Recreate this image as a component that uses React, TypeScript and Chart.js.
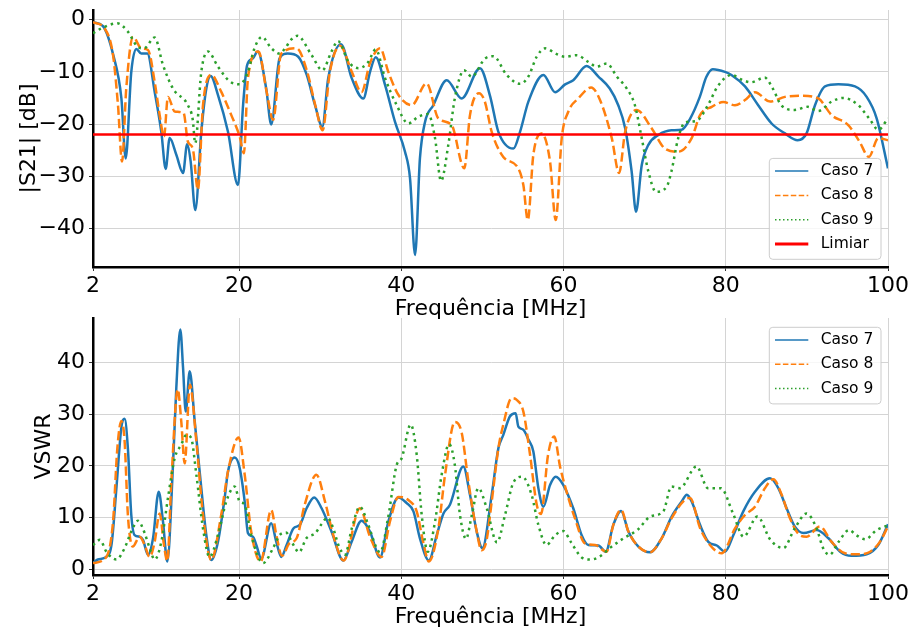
import React, { useEffect, useRef } from 'react';
import { Chart, registerables } from 'chart.js';

Chart.register(...registerables);

const FONT = "'DejaVu Sans', sans-serif";

type Pt = [number, number];

// ---------- Data: |S21| [dB] vs frequency [MHz] ----------
const s21Caso7: Pt[] = [
  [2, -0.5], [3.2, -1.2], [4.5, -6.8], [5.5, -15.1], [6.03, -26.6], [6.72, -10], [7.34, -5.6], [7.95, -6.5],
  [8.7, -6.5], [9.6, -13.8], [10.42, -21.5], [10.96, -28.6], [11.45, -22.7], [12.27, -25.9], [13.1, -29.4],
  [13.6, -23.9], [14.04, -27.2], [14.61, -36.5], [15.35, -21.5], [15.97, -13.2], [16.5, -10.8], [17.4, -14.4],
  [18.64, -21.5], [19.87, -31.7], [20.5, -16.4], [21.0, -8.7], [21.72, -7.4], [22.3, -6.1], [23.35, -13.2],
  [23.97, -20.1], [25.0, -7.4], [26.0, -6.5], [27.3, -7.1], [28.35, -10.6], [29.37, -16.4], [30.27, -20.5],
  [31.0, -11.2], [32.57, -4.7], [33.89, -11.2], [35.32, -15.1], [36.15, -10], [36.85, -7.2], [38.0, -12.5],
  [39.23, -19.6], [40.46, -25.3], [41.08, -30.4], [41.7, -45.1], [42.3, -26.6], [42.93, -19.6], [43.95, -16.4],
  [45.6, -11.6], [47.45, -15.1], [49.7, -9.3], [50.94, -14.6], [51.97, -21.5], [53.82, -24.7], [54.64, -21.5],
  [55.67, -15.7], [57.52, -10.6], [58.96, -13.9], [60.2, -12.4], [61.2, -11.6], [62.85, -8.9], [64.3, -10.9],
  [65.7, -13.2], [66.75, -16.4], [67.6, -20.8], [68.4, -29.1], [68.94, -36.8], [69.64, -27.9], [70.46, -24.0],
  [71.7, -22.1], [73.3, -21.2], [74.57, -21.1], [75.6, -19.0], [76.8, -14.8], [77.6, -11.0], [78.4, -9.5],
  [79.9, -10.0], [80.7, -10.6], [82.37, -12.8], [84.0, -16.4], [85.65, -19.9], [87.3, -21.8], [88.86, -23.1],
  [89.96, -21.8], [91.0, -16.4], [92.24, -12.8], [93.88, -12.4], [95.93, -12.8], [97.37, -14.8], [98.6, -18.9],
  [100, -28.5],
];

const s21Caso8: Pt[] = [
  [2, -0.5], [3.44, -1.7], [4.47, -6.8], [5.08, -16.4], [5.58, -27.2], [6.1, -13.2], [6.93, -3.3], [7.95, -5.5],
  [8.78, -5.8], [9.6, -11.9], [10.22, -18.3], [10.75, -22.4], [11.24, -14.8], [12.07, -17.6], [13.17, -17.9],
  [13.7, -23.4], [14.3, -24.7], [14.93, -32.6], [15.56, -16.4], [16.58, -10.6], [17.8, -13.8], [19.05, -18.3],
  [20.08, -22.4], [20.6, -25.6], [21.1, -11.2], [22.4, -6.1], [23.4, -13.8], [24.2, -19.2], [25.2, -6.5],
  [27.1, -5.5], [28.35, -9.7], [29.4, -16.4], [30.3, -21.2], [31.2, -10], [32.45, -5.0], [33.9, -10],
  [35.1, -13.9], [36.15, -8.3], [37.4, -5.5], [38.4, -10], [39.64, -14.4], [41.28, -16.4], [43.13, -12.2],
  [44.56, -18.9], [46.2, -20.2], [47.77, -28.5], [48.47, -18.3], [49.58, -14.1], [50.3, -15.7], [51.15, -21.5],
  [52.58, -26.3], [54.43, -28.5], [55.05, -31.7], [55.6, -38.4], [56.28, -25.9], [57.3, -21.8], [58.34, -27.2],
  [59.04, -38.4], [59.78, -22.7], [60.6, -17.6], [61.83, -15.1], [63.4, -13.0], [64.5, -15.4], [65.95, -22.7],
  [66.85, -29.4], [67.6, -21.5], [69.0, -17.3], [70.86, -20.8], [72.5, -24.7], [74.14, -25.3], [75.8, -22.7],
  [76.83, -18.3], [78.27, -16.7], [79.7, -15.8], [81.14, -16.4], [82.37, -15.4], [83.6, -13.9], [85.46, -15.7],
  [87.3, -14.8], [89.36, -14.6], [91.4, -15.1], [93.05, -18.3], [95.1, -20.2], [96.5, -23.4], [97.64, -26.3],
  [98.8, -22.7], [100, -23.1],
];

const s21Caso9: Pt[] = [
  [2, -2.6], [3.0, -1.7], [5.0, -0.7], [6.3, -2.3], [7.5, -5.2], [8.3, -5.5], [9.6, -3.4], [10.63, -8.7],
  [11.86, -13.2], [13.7, -16.4], [14.3, -19.2], [14.6, -23.7], [15.35, -10], [16.17, -6.1], [17.4, -9],
  [18.84, -11.8], [20.08, -12.4], [21.1, -10], [21.9, -5.5], [22.83, -3.3], [24.0, -5.5], [25.0, -6.5],
  [25.67, -5.5], [26.45, -3.8], [27.2, -3.1], [28.95, -6.8], [30.27, -9.7], [31.4, -6.1], [32.2, -4.1],
  [33.5, -8.1], [34.73, -9.3], [35.9, -8.2], [36.85, -5.7], [38.0, -11.2], [39.44, -16.4], [40.87, -19.9],
  [42.1, -18.6], [43.33, -18.1], [44.16, -22.7], [44.9, -30.9], [45.8, -24.0], [46.6, -15.1], [47.74, -9.7],
  [48.68, -10.9], [50.3, -7.5], [51.35, -7.0], [53.0, -10.6], [54.64, -12.3], [55.67, -10.9], [56.7, -7.1],
  [57.72, -5.5], [59.16, -6.6], [60.2, -7.1], [61.63, -6.8], [63.06, -8.1], [64.1, -9.0], [65.33, -8.4],
  [66.56, -10.9], [67.8, -13.2], [68.8, -16.4], [69.64, -22.7], [70.46, -29.1], [71.4, -33.0], [72.72, -32.0],
  [73.3, -29.1], [74.14, -22.7], [74.98, -19.7], [76.4, -19.4], [77.8, -16.4], [79.0, -12.8], [80.7, -10.6],
  [82.1, -11.6], [83.1, -12.0], [84.8, -11.1], [85.8, -13.2], [86.85, -16.4], [88.5, -17.3], [90.1, -16.7],
  [91.4, -17.5], [93.05, -15.7], [94.5, -15.0], [96.35, -16.4], [97.8, -19.2], [98.8, -21.1], [100, -18.9],
];

const limiarDb = -22;

// ---------- Data: VSWR vs frequency [MHz] ----------
const vswrCaso7: Pt[] = [
  [2, 1.2], [2.6, 1.9], [3.64, 2.4], [4.3, 5.0], [4.9, 16.0], [5.5, 27.5], [5.9, 29.1], [6.3, 23.4], [6.72, 10.5],
  [7.13, 6.6], [7.75, 6.3], [8.16, 5.7], [8.78, 2.8], [9.4, 6.0], [10.1, 15.0], [10.63, 9.2], [11.16, 1.5],
  [11.86, 20.2], [12.27, 35.1], [12.76, 46.4], [13.1, 39.0], [13.43, 30.5], [13.92, 38.3], [14.54, 28.6],
  [15.35, 15.7], [15.97, 6.6], [16.58, 1.8], [17.4, 5.3], [18.23, 13.8], [18.64, 18.9], [19.46, 21.6],
  [20.08, 19.6], [20.7, 13.1], [21.1, 7.0], [21.72, 6.3], [22.13, 4.7], [22.75, 2.1], [23.97, 8.9], [24.6, 5.3],
  [25.2, 2.4], [25.87, 4.7], [26.7, 7.9], [27.5, 8.6], [28.33, 11.8], [29.27, 13.9], [30.18, 11.8], [31.4, 7.3],
  [32.86, 1.7], [33.9, 5.4], [35.1, 9.4], [36.14, 7.3], [37.38, 2.3], [38.4, 9.2], [39.64, 13.9], [40.67, 12.8],
  [41.5, 11.2], [42.3, 6.0], [43.4, 1.7], [44.37, 6.6], [45.2, 10.8], [46.0, 12.5], [47.65, 19.9], [48.47, 14.4],
  [49.3, 7.3], [50.0, 4.1], [51.15, 14.4], [51.97, 23.4], [52.58, 26.0], [53.4, 29.6], [54.1, 30.2], [54.43, 27.6],
  [55.05, 27.0], [55.67, 25.1], [56.28, 22.8], [56.9, 15.7], [57.52, 12.1], [58.34, 16.3], [59.04, 17.9],
  [59.98, 16.3], [61.2, 11.8], [62.24, 6.6], [63.06, 4.7], [64.3, 4.6], [65.2, 3.4], [66.14, 8.6], [67.1, 11.3],
  [68.0, 7.3], [69.23, 4.4], [70.67, 3.3], [72.1, 6.0], [73.33, 10.2], [74.57, 13.1], [75.2, 14.4], [75.8, 13.1],
  [76.83, 8.6], [77.85, 5.3], [78.9, 4.6], [79.9, 3.4], [80.93, 6.6], [82.16, 11.2], [83.6, 15.0], [85.46, 17.6],
  [86.48, 15.7], [87.5, 11.8], [88.5, 8.3], [89.6, 7.0], [91.2, 7.6], [92.66, 6.0], [94.1, 3.4], [95.5, 2.6],
  [97.37, 2.9], [98.8, 4.7], [100, 8.7],
];

const vswrCaso8: Pt[] = [
  [2, 1.2], [3.64, 2.4], [4.47, 9.2], [5.0, 23.4], [5.5, 28.7], [5.9, 24.7], [6.3, 10.5], [6.9, 4.4], [7.75, 6.3],
  [8.37, 4.7], [8.98, 2.4], [9.6, 5.3], [10.22, 10.8], [10.75, 4.7], [11.16, 1.6], [11.66, 17.0], [12.45, 34.8],
  [12.88, 28.6], [13.3, 20.5], [13.95, 35.7], [14.74, 24.7], [15.56, 10.5], [16.58, 1.8], [17.8, 10.5],
  [18.64, 18.9], [19.95, 25.5], [20.7, 18.3], [21.5, 7.3], [22.67, 1.5], [23.97, 11.5], [24.6, 6.6], [25.3, 2.6],
  [26.2, 5.0], [27.1, 6.0], [28.1, 12.5], [29.54, 18.3], [30.6, 13.1], [31.62, 6.6], [32.9, 1.7], [34.9, 11.8],
  [36.14, 6.3], [37.58, 2.4], [38.6, 9.2], [39.64, 14.0], [40.87, 13.4], [41.9, 11.2], [42.7, 5.3], [43.4, 1.5],
  [44.57, 7.9], [45.4, 18.3], [46.6, 28.5], [47.45, 26.4], [48.27, 17.0], [49.3, 7.3], [49.9, 3.7], [50.5, 5.5],
  [51.15, 13.1], [51.97, 23.4], [52.58, 28.0], [53.6, 33.1], [54.2, 32.8], [55.05, 30.5], [55.87, 22.2],
  [56.7, 12.5], [57.23, 10.7], [58.1, 22.2], [58.86, 25.7], [59.57, 19.9], [60.38, 15.0], [61.4, 9.9],
  [62.65, 5.0], [63.9, 4.7], [65.3, 3.4], [66.14, 8.6], [67.1, 11.5], [68.0, 7.3], [69.23, 4.4], [70.67, 3.3],
  [72.1, 6.0], [73.33, 9.9], [75.0, 13.5], [75.6, 13.8], [76.83, 8.0], [78.05, 4.7], [79.5, 3.1], [81.14, 7.9],
  [82.37, 10.5], [83.6, 12.1], [84.83, 15.7], [85.86, 17.4], [86.9, 14.4], [87.9, 9.9], [89.14, 6.6],
  [89.96, 6.3], [91.6, 8.3], [93.05, 5.3], [94.7, 3.1], [96.3, 2.9], [97.8, 3.4], [99.0, 5.3], [100, 8.3],
];

const vswrCaso9: Pt[] = [
  [2, 4.7], [2.86, 5.7], [3.64, 3.4], [4.87, 1.9], [5.9, 4.1], [6.72, 7.3], [7.55, 9.4], [8.37, 7.0], [8.98, 4.1],
  [9.6, 1.9], [10.42, 5.3], [11.24, 13.8], [12.07, 21.5], [12.88, 24.1], [13.5, 26.0], [14.1, 25.4], [14.74, 18.3],
  [15.56, 7.9], [16.37, 2.4], [17.4, 6.6], [18.43, 13.1], [19.46, 16.0], [20.08, 13.1], [20.7, 12.5], [21.5, 6.6],
  [22.96, 1.2], [24.2, 4.1], [25.0, 6.6], [25.8, 7.1], [26.6, 5.0], [27.4, 3.3], [28.3, 6.0], [29.4, 7.0],
  [30.2, 8.8], [30.9, 10.0], [31.6, 8.0], [32.3, 4.5], [33.06, 2.8], [33.9, 7.9], [34.9, 12.1], [35.93, 8.6],
  [36.96, 4.1], [37.4, 3.3], [38.4, 10.2], [39.44, 20.2], [40.05, 21.5], [41.16, 28.0], [41.9, 22.2],
  [42.52, 10.5], [43.26, 3.4], [44.16, 9.2], [44.98, 18.3], [45.9, 24.2], [46.6, 20.2], [47.24, 10.5],
  [47.98, 5.9], [48.7, 10.5], [49.5, 15.7], [50.5, 12.0], [51.8, 5.2], [52.79, 10.5], [53.8, 16.7], [54.9, 17.9],
  [56.07, 14.4], [56.9, 8.6], [57.9, 4.7], [58.96, 6.6], [59.98, 7.4], [60.9, 5.3], [62.24, 2.3], [63.3, 1.9],
  [64.4, 2.4], [65.7, 4.1], [67.4, 6.0], [69.1, 7.6], [70.7, 10.2], [72.3, 11.2], [73.3, 16.0], [74.35, 15.7],
  [76.4, 19.9], [77.8, 15.7], [79.4, 15.7], [80.9, 10.8], [82.2, 6.3], [83.9, 10.2], [85.5, 5.7], [87.1, 4.1],
  [88.5, 7.9], [89.96, 10.8], [91.2, 7.9], [92.0, 4.1], [92.8, 2.8], [93.9, 5.3], [95.2, 7.6], [96.1, 6.6],
  [97.2, 5.8], [98.6, 7.6], [100, 8.5],
];

// ---------- Axes ----------
const freqTicks = [2, 20, 40, 60, 80, 100];
const s21Ticks = [-40, -30, -20, -10, 0];
const vswrTicks = [0, 10, 20, 30, 40];
const freqRange = [2, 100];
const s21Range = [-47.4, 1.85];
const vswrRange = [-1.1, 48.6];

const seriesLabels = ['Caso 7', 'Caso 8', 'Caso 9'];
const limiarLabel = 'Limiar';

const C7 = '#1f77b4';
const C8 = '#ff7f0e';
const C9 = '#2ca02c';
const CLIM = '#ff0000';

const toXY = (pts: Pt[]) => pts.map(([x, y]) => ({ x, y }));
const fmtNum = (v: number) => (v < 0 ? '\u2212' + Math.abs(v) : String(v));

const boxLegend = {
  id: 'boxLegend',
  afterDraw(chart: any, _args: any, opts: any) {
    const items = opts.items as any[];
    if (!items || !items.length) return;
    const { ctx, chartArea } = chart;
    const rowH = 24.3;
    const w = 111.7;
    const h = 28 + (items.length - 1) * rowH;
    const left = chartArea.right - 7 - w;
    const top = opts.place === 'lower' ? chartArea.bottom - 7.7 - h : chartArea.top + 9.3;
    ctx.save();
    ctx.beginPath();
    ctx.roundRect(left, top, w, h, 3.5);
    ctx.fillStyle = 'rgba(255,255,255,0.8)';
    ctx.fill();
    ctx.lineWidth = 1;
    ctx.strokeStyle = '#cccccc';
    ctx.stroke();
    items.forEach((it: any, i: number) => {
      const cy = top + 12.7 + i * rowH;
      ctx.beginPath();
      ctx.setLineDash(it.dash);
      ctx.lineWidth = it.width;
      ctx.strokeStyle = it.color;
      ctx.moveTo(left + 5.7, cy);
      ctx.lineTo(left + 39, cy);
      ctx.stroke();
      ctx.setLineDash([]);
      ctx.fillStyle = '#000';
      ctx.font = `15.5px ${FONT}`;
      ctx.textBaseline = 'middle';
      ctx.textAlign = 'left';
      ctx.fillText(it.label, left + 51.4, cy);
    });
    ctx.restore();
  },
};

function lineDs(label: string, pts: Pt[], color: string, dash: number[], order: number) {
  return {
    label,
    data: toXY(pts),
    borderColor: color,
    backgroundColor: color,
    borderWidth: 2.5,
    borderDash: dash,
    pointRadius: 0,
    fill: false,
    cubicInterpolationMode: 'monotone',
    order,
  };
}

function makeConfig(kind: 'top' | 'bottom'): any {
  const isTop = kind === 'top';
  const datasets: any[] = isTop
    ? [
        lineDs(seriesLabels[0], s21Caso7, C7, [], 3),
        lineDs(seriesLabels[1], s21Caso8, C8, [9.25, 4], 2),
        lineDs(seriesLabels[2], s21Caso9, C9, [2.5, 4.1], 1),
        {
          label: limiarLabel,
          data: [
            { x: freqRange[0], y: limiarDb },
            { x: freqRange[1], y: limiarDb },
          ],
          borderColor: CLIM,
          borderWidth: 2.5,
          pointRadius: 0,
          order: 0,
        },
      ]
    : [
        lineDs(seriesLabels[0], vswrCaso7, C7, [], 3),
        lineDs(seriesLabels[1], vswrCaso8, C8, [9.25, 4], 2),
        lineDs(seriesLabels[2], vswrCaso9, C9, [2.5, 4.1], 1),
      ];

  const legendItems: any[] = [
    { label: seriesLabels[0], color: C7, width: 1.5, dash: [] },
    { label: seriesLabels[1], color: C8, width: 1.5, dash: [5.5, 2.4] },
    { label: seriesLabels[2], color: C9, width: 1.5, dash: [1.5, 2.5] },
  ];
  if (isTop) legendItems.push({ label: limiarLabel, color: CLIM, width: 3, dash: [] });

  const yTicks = isTop ? s21Ticks : vswrTicks;
  const yRange = isTop ? s21Range : vswrRange;
  const gridOpts = { color: '#d4d4d4', lineWidth: 1, tickLength: 4, tickColor: '#333', tickWidth: 1 };
  const borderOpts = { display: true, color: '#000', width: 2.5 };
  const tickFont = { family: FONT, size: 22 };

  return {
    type: 'line',
    data: { datasets },
    plugins: [boxLegend],
    options: {
      responsive: false,
      maintainAspectRatio: false,
      animation: false,
      devicePixelRatio: 1,
      events: [],
      layout: {
        padding: isTop
          ? { left: 0, top: 10, right: 24, bottom: 308 }
          : { left: 0, top: 318, right: 24, bottom: 0 },
      },
      scales: {
        x: {
          type: 'linear',
          min: freqRange[0],
          max: freqRange[1],
          afterBuildTicks: (s: any) => {
            s.ticks = freqTicks.map((v) => ({ value: v }));
          },
          afterFit: (s: any) => {
            s.height = 55;
            s.paddingLeft = 0;
            s.paddingRight = 0;
          },
          ticks: {
            color: '#000',
            font: tickFont,
            padding: 2,
            maxRotation: 0,
            autoSkip: false,
            callback: (v: any) => String(v),
          },
          grid: gridOpts,
          border: borderOpts,
          title: {
            display: true,
            text: 'Frequência [MHz]',
            color: '#000',
            font: tickFont,
            padding: 0,
          },
        },
        y: {
          type: 'linear',
          min: yRange[0],
          max: yRange[1],
          afterBuildTicks: (s: any) => {
            s.ticks = yTicks.map((v) => ({ value: v }));
          },
          afterFit: (s: any) => {
            s.width = 93;
            s.paddingTop = 0;
            s.paddingBottom = 0;
          },
          ticks: {
            color: '#000',
            font: tickFont,
            padding: 4,
            autoSkip: false,
            callback: (v: any) => fmtNum(Number(v)),
          },
          grid: gridOpts,
          border: borderOpts,
          title: {
            display: true,
            text: isTop ? '|S21| [dB]' : 'VSWR',
            color: '#000',
            font: tickFont,
            padding: { top: isTop ? 16 : 31, bottom: 0 },
          },
        },
      },
      plugins: {
        legend: { display: false },
        tooltip: { enabled: false },
        boxLegend: { items: legendItems, place: isTop ? 'lower' : 'upper' },
      },
    },
  };
}

export default function App() {
  const topRef = useRef<HTMLCanvasElement>(null);
  const botRef = useRef<HTMLCanvasElement>(null);

  useEffect(() => {
    Chart.defaults.font.family = FONT;
    Chart.defaults.color = '#000';
    const c1 = new Chart(topRef.current as HTMLCanvasElement, makeConfig('top'));
    const c2 = new Chart(botRef.current as HTMLCanvasElement, makeConfig('bottom'));
    return () => {
      c1.destroy();
      c2.destroy();
    };
  }, []);

  return (
    <div style={{ position: 'fixed', left: 0, top: 0, width: 912, height: 630, background: '#fff' }}>
      <canvas ref={topRef} width={912} height={630} style={{ position: 'absolute', left: 0, top: 0 }} />
      <canvas ref={botRef} width={912} height={630} style={{ position: 'absolute', left: 0, top: 0 }} />
    </div>
  );
}
